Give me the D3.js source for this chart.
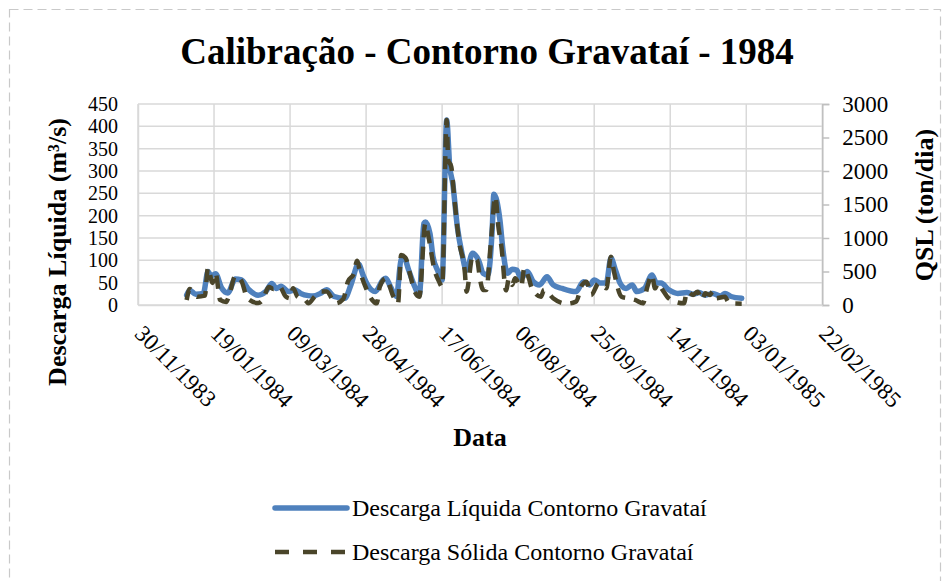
<!DOCTYPE html>
<html><head><meta charset="utf-8">
<script src="https://cdn.jsdelivr.net/npm/d3@7/dist/d3.min.js"></script>
<style>body{margin:0;background:#fff}</style>
</head><body>
<svg id="c" width="950" height="581"></svg>
<script>
// ---- data (days counted from 01/01/1984) ----
const liqDays = [0,2,6,11,14,16,19,23,27,32,36,41,47,52,56,59,62,67,71,75,80,83,88,92,97,104,108,113,116,119,124,129,131,134,138,141,143,146,150,153,156,157,160,162,165,168,171,173,175,178,181,184,188,192,195,198,201,202,206,208,211,214,217,220,224,228,232,237,241,247,256,261,265,268,272,276,279,282,285,289,293,296,301,306,309,312,317,323,329,333,337,341,346,351,354,358,365];
const liqValues = [22,33,24,26,75,65,70,38,27,58,56,34,22,30,48,37,42,30,34,26,21,20,26,34,19,15,45,92,67,45,30,56,60,41,19,101,105,78,41,22,183,186,160,108,78,56,414,310,272,175,116,78,116,100,71,67,175,248,190,123,71,80,78,60,75,52,45,63,45,37,30,52,45,56,49,50,105,78,49,37,45,30,37,67,49,49,34,26,28,24,28,22,26,20,26,19,15];
const solDays = [0,2,7,12,14,17,19,22,26,28,32,36,40,47,50,54,57,61,65,68,70,73,78,80,84,88,92,98,103,106,110,112,114,118,122,125,127,131,136,139,141,144,147,150,153,157,159,163,166,168,171,172,174,176,179,183,184,188,191,193,195,197,200,203,205,207,210,212,214,216,220,222,225,227,233,235,238,241,250,256,260,263,266,271,276,279,281,286,290,295,300,303,306,308,310,313,316,321,327,329,333,336,339,341,344,346,348,354,356,358,365];
const solValues = [75,240,124,140,555,330,480,75,45,149,435,360,100,30,75,270,240,280,130,100,250,120,75,25,120,200,200,25,90,348,473,660,497,250,75,25,274,398,124,25,746,700,450,199,124,1219,1020,522,348,274,2760,2165,2065,1600,970,473,199,721,672,373,224,224,921,1620,1169,871,220,398,299,398,274,548,398,249,124,224,175,100,20,50,299,348,149,324,249,721,497,124,100,75,25,274,448,249,324,224,124,50,25,199,150,199,75,175,150,199,100,124,50,25,20];
const leftTicks = [0,50,100,150,200,250,300,350,400,450];
const rightTicks = [0,500,1000,1500,2000,2500,3000];
const xTickLabels = ["30/11/1983","19/01/1984","09/03/1984","28/04/1984","17/06/1984","06/08/1984","25/09/1984","14/11/1984","03/01/1985","22/02/1985"];
const seriesNames = ["Descarga Líquida Contorno Gravataí","Descarga Sólida Contorno Gravataí"];
const titleText = "Calibração - Contorno Gravataí - 1984";

// ---- layout ----
const svg = d3.select("#c");
const L = 138, R = 822.3, T = 104, B = 305;
const FONT = "'Liberation Serif','Times New Roman',serif";
const parse = d3.utcParse("%d/%m/%Y");
const fmt = d3.utcFormat("%d/%m/%Y");
const base = Date.UTC(1984,0,1);
const toDate = d => d3.utcDay.offset(new Date(base), d);

const x = d3.scaleUtc().domain([parse(xTickLabels[0]), parse(xTickLabels[xTickLabels.length-1])]).range([L, R]);
const yL = d3.scaleLinear().domain([0,450]).range([B, T]);
const yR = d3.scaleLinear().domain([0,3000]).range([B, T]);

// chart border
svg.append("rect").attr("x",9.5).attr("y",9.5).attr("width",931).attr("height",620)
  .attr("fill","none").attr("stroke","#c9c9c9").attr("stroke-width",1.2).attr("stroke-dasharray","9,5");

// title
svg.append("text").attr("x",487).attr("y",64).attr("text-anchor","middle")
  .attr("font-family",FONT).attr("font-weight","bold").attr("font-size",37).text(titleText);

// gridlines
const grid = svg.append("g").attr("stroke","#d9d9d9").attr("stroke-width",1.5);
leftTicks.forEach(v => grid.append("line").attr("x1",L).attr("x2",R).attr("y1",yL(v)).attr("y2",yL(v)));
xTickLabels.forEach(s => grid.append("line").attr("x1",x(parse(s))).attr("x2",x(parse(s))).attr("y1",T).attr("y2",B));

// left axis
const gL = svg.append("g").attr("transform",`translate(${L},0)`)
  .call(d3.axisLeft(yL).tickValues(leftTicks).tickFormat(d3.format("d")).tickSize(0).tickPadding(20));
gL.select(".domain").attr("stroke","#d9d9d9").attr("stroke-width",1.5);
gL.selectAll("text").attr("font-family",FONT).attr("font-size",20).attr("fill","#000");

// right axis
const gR = svg.append("g").attr("transform",`translate(${R},0)`)
  .call(d3.axisRight(yR).tickValues(rightTicks).tickFormat(d3.format("d")).tickSize(7).tickPadding(13));
gR.select(".domain").attr("stroke","#bfbfbf").attr("stroke-width",1.5);
gR.selectAll(".tick line").attr("stroke","#bfbfbf").attr("stroke-width",1.5);
gR.selectAll("text").attr("font-family",FONT).attr("font-size",23).attr("fill","#000");

// bottom axis
const gB = svg.append("g").attr("transform",`translate(0,${B})`)
  .call(d3.axisBottom(x).tickValues(xTickLabels.map(parse)).tickFormat(fmt).tickSize(0));
gB.select(".domain").attr("stroke","#d9d9d9").attr("stroke-width",1.5);
gB.selectAll("text").attr("font-family",FONT).attr("font-size",23).attr("fill","#000")
  .attr("text-anchor","start").attr("dy",0).attr("y",0)
  .attr("transform","translate(-5,30) rotate(45)");

// axis titles
svg.append("text").attr("transform","translate(66,252) rotate(-90)").attr("text-anchor","middle")
  .attr("font-family",FONT).attr("font-weight","bold").attr("font-size",26).text("Descarga Líquida (m³/s)");
svg.append("text").attr("transform","translate(933,205) rotate(-90)").attr("text-anchor","middle")
  .attr("font-family",FONT).attr("font-weight","bold").attr("font-size",26).text("QSL (ton/dia)");
svg.append("text").attr("x",480).attr("y",446).attr("text-anchor","middle")
  .attr("font-family",FONT).attr("font-weight","bold").attr("font-size",26).text("Data");

// lines
const liq = liqDays.map((d,i)=>({d:toDate(d), v:liqValues[i]}));
const sol = solDays.map((d,i)=>({d:toDate(d), v:solValues[i]}));
const lineL = d3.line().x(p=>x(p.d)).y(p=>yL(p.v)).curve(d3.curveMonotoneX);
const lineR = d3.line().x(p=>x(p.d)).y(p=>yR(p.v)).curve(d3.curveMonotoneX);
const BLUE = "#4f81bd", DARK = "#4a452a";
svg.append("path").datum(liq).attr("d",lineL).attr("fill","none").attr("stroke",BLUE)
  .attr("stroke-width",5.5).attr("stroke-linejoin","round").attr("stroke-linecap","round");
svg.append("path").datum(sol).attr("d",lineR).attr("fill","none").attr("stroke",DARK)
  .attr("stroke-width",4.5).attr("stroke-dasharray","13,9").attr("stroke-linejoin","round");

// legend
const lg = svg.append("g");
[[508,BLUE,null,5.5],[552,DARK,"14,14",4.5]].forEach((c,i)=>{
  const ln = lg.append("line").attr("x1",275).attr("x2",347).attr("y1",c[0]).attr("y2",c[0])
    .attr("stroke",c[1]).attr("stroke-width",c[3]).attr("stroke-linecap", i===0?"round":"butt");
  if (c[2]) ln.attr("stroke-dasharray",c[2]);
  lg.append("text").attr("x",352).attr("y",c[0]+8).attr("font-family",FONT).attr("font-size",24)
    .text(seriesNames[i]);
});
</script>
</body></html>
